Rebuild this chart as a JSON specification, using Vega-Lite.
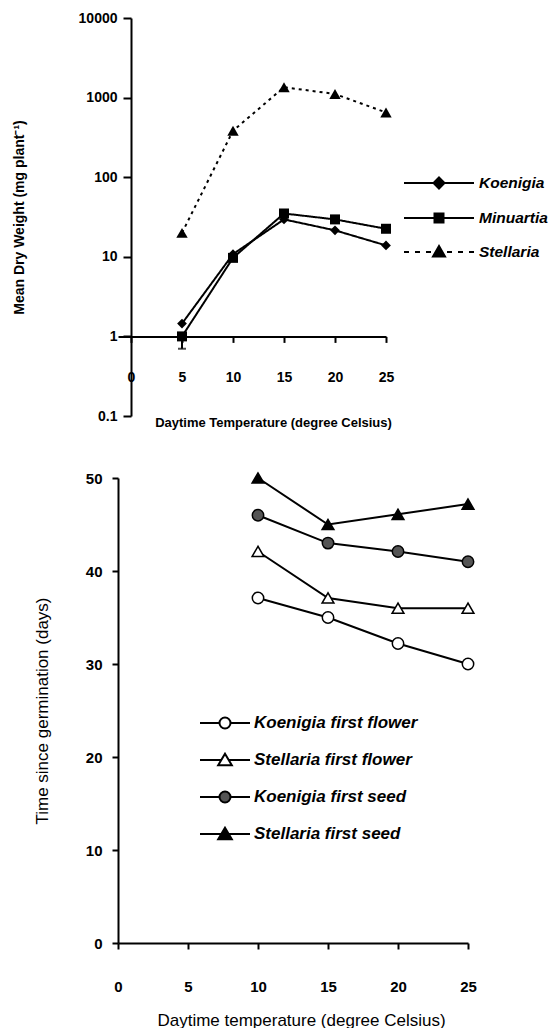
{
  "$schema": "https://vega.github.io/schema/vega-lite/v6.json",
  "padding": {"left": 12, "top": 11, "right": 0, "bottom": 0},
  "bounds": "flush",
  "spacing": 62,
  "background": "white",
  "config": {
    "font": "Liberation Sans",
    "view": {"stroke": null},
    "axis": {
      "grid": false, "domainColor": "black", "domainWidth": 2, "tickColor": "black", "tickWidth": 2,
      "labelColor": "black", "titleColor": "black", "labelFont": "Liberation Sans", "titleFont": "Liberation Sans",
      "labelFontWeight": "bold", "titleFontWeight": "bold", "labelFlush": false, "labelOverlap": false
    },
    "legend": {"labelFont": "Liberation Sans", "labelColor": "black", "labelLimit": 400}
  },
  "datasets": {
    "growth": [
      {"temp": 5, "species": "Koenigia", "weight": 1.45},
      {"temp": 10, "species": "Koenigia", "weight": 10.8},
      {"temp": 15, "species": "Koenigia", "weight": 29.5},
      {"temp": 20, "species": "Koenigia", "weight": 21.5},
      {"temp": 25, "species": "Koenigia", "weight": 13.9},
      {"temp": 5, "species": "Minuartia", "weight": 1.0},
      {"temp": 10, "species": "Minuartia", "weight": 9.7},
      {"temp": 15, "species": "Minuartia", "weight": 35},
      {"temp": 20, "species": "Minuartia", "weight": 29.5},
      {"temp": 25, "species": "Minuartia", "weight": 22.5},
      {"temp": 5, "species": "Stellaria", "weight": 20},
      {"temp": 10, "species": "Stellaria", "weight": 383},
      {"temp": 15, "species": "Stellaria", "weight": 1350},
      {"temp": 20, "species": "Stellaria", "weight": 1110},
      {"temp": 25, "species": "Stellaria", "weight": 650}
    ],
    "errors": [{"temp": 5, "species": "Minuartia", "lo": 0.7, "hi": 1.0}],
    "phenology": [
      {"temp": 10, "series": "Koenigia first flower", "days": 37.1},
      {"temp": 15, "series": "Koenigia first flower", "days": 35.0},
      {"temp": 20, "series": "Koenigia first flower", "days": 32.2},
      {"temp": 25, "series": "Koenigia first flower", "days": 30.0},
      {"temp": 10, "series": "Stellaria first flower", "days": 42.1},
      {"temp": 15, "series": "Stellaria first flower", "days": 37.1},
      {"temp": 20, "series": "Stellaria first flower", "days": 36.0},
      {"temp": 25, "series": "Stellaria first flower", "days": 36.0},
      {"temp": 10, "series": "Koenigia first seed", "days": 46.0},
      {"temp": 15, "series": "Koenigia first seed", "days": 43.0},
      {"temp": 20, "series": "Koenigia first seed", "days": 42.1},
      {"temp": 25, "series": "Koenigia first seed", "days": 41.0},
      {"temp": 10, "series": "Stellaria first seed", "days": 50.0},
      {"temp": 15, "series": "Stellaria first seed", "days": 45.0},
      {"temp": 20, "series": "Stellaria first seed", "days": 46.1},
      {"temp": 25, "series": "Stellaria first seed", "days": 47.2}
    ]
  },
  "vconcat": [
    {
      "width": 268,
      "height": 398,
      "data": {"name": "growth"},
      "resolve": {"scale": {"shape": "independent"}},
      "encoding": {
        "x": {
          "field": "temp", "type": "quantitative",
          "scale": {"domain": [-1.275, 25], "nice": false, "zero": false},
          "axis": {
            "values": [0, 5, 10, 15, 20, 25], "offset": -79.6, "tickSize": 6, "labelPadding": 28,
            "labelFontSize": 14, "title": "Daytime Temperature (degree Celsius)", "titleFontSize": 13,
            "titleX": 155, "titleY": 86, "titleBaseline": "middle"
          }
        },
        "y": {
          "field": "weight", "type": "quantitative",
          "scale": {"type": "log", "domain": [0.1, 10000], "nice": false},
          "axis": {
            "values": [0.1, 1, 10, 100, 1000, 10000], "format": "~g", "offset": -13, "tickSize": 8,
            "labelPadding": 6, "labelFontSize": 14, "title": "Mean Dry Weight (mg plant⁻¹)",
            "titleFontSize": 14, "titlePadding": 52
          }
        }
      },
      "layer": [
        {
          "mark": {"type": "line", "color": "black", "strokeWidth": 2},
          "encoding": {
            "strokeDash": {
              "field": "species", "type": "nominal",
              "scale": {"domain": ["Koenigia", "Minuartia", "Stellaria"], "range": [[1, 0], [1, 0], [3, 4]]},
              "legend": null
            }
          }
        },
        {
          "data": {"name": "errors"},
          "mark": {"type": "rule", "color": "black", "strokeWidth": 2},
          "encoding": {"y": {"field": "lo", "type": "quantitative"}, "y2": {"field": "hi"}}
        },
        {
          "data": {"name": "errors"},
          "mark": {"type": "tick", "orient": "horizontal", "color": "black", "size": 8, "thickness": 2},
          "encoding": {"y": {"field": "lo", "type": "quantitative"}}
        },
        {
          "transform": [{"filter": "datum.species === 'Koenigia'"}],
          "mark": {"type": "point", "shape": "diamond", "filled": true, "color": "black", "opacity": 1, "size": 95}
        },
        {
          "transform": [{"filter": "datum.species === 'Minuartia'"}],
          "mark": {"type": "point", "shape": "square", "filled": true, "color": "black", "opacity": 1, "size": 100}
        },
        {
          "transform": [{"filter": "datum.species === 'Stellaria'"}],
          "mark": {"type": "point", "shape": "triangle-up", "filled": true, "color": "black", "opacity": 1, "size": 130}
        },
        {
          "mark": {"type": "point", "filled": false, "fill": "black", "stroke": "black", "strokeWidth": 2, "opacity": 0, "size": 400},
          "encoding": {
            "shape": {
              "field": "species", "type": "nominal",
              "scale": {
                "domain": ["Koenigia", "Minuartia", "Stellaria"],
                "range": [
                  "M-3.5,0H3.5M0,-0.55L0.55,0L0,0.55L-0.55,0Z",
                  "M-3.5,0H3.5M-0.45,-0.45H0.45V0.45H-0.45Z",
                  "M-3.5,0H-3M-2.4,0H-1.9M-1.3,0H-0.8M0.8,0H1.3M1.9,0H2.4M3,0H3.5M0,-0.6L0.6,0.45H-0.6Z"
                ]
              },
              "legend": {
                "title": null, "orient": "none", "legendX": 310, "legendY": 154, "padding": 0,
                "symbolSize": 400, "symbolOpacity": 1, "symbolStrokeWidth": 2,
                "labelFontSize": 15.5, "labelFontStyle": "italic", "labelFontWeight": "bold",
                "labelOffset": 29, "rowPadding": 14
              }
            }
          }
        },
        {
          "data": {"values": [{}]},
          "mark": {"type": "text", "align": "left", "baseline": "middle", "fontWeight": "bold", "fontSize": 13, "color": "black"},
          "encoding": {
            "x": {"datum": 1.86, "type": "quantitative"},
            "y": {"datum": 7000, "type": "quantitative"},
            "text": {"value": "(1a)"}
          }
        }
      ]
    },
    {
      "width": 350,
      "height": 465,
      "data": {"name": "phenology"},
      "resolve": {"scale": {"shape": "independent", "fill": "independent"}},
      "encoding": {
        "x": {
          "field": "temp", "type": "quantitative",
          "scale": {"domain": [0, 25], "nice": false, "zero": false},
          "axis": {
            "values": [0, 5, 10, 15, 20, 25], "tickSize": 6, "labelPadding": 30, "labelFontSize": 15,
            "title": "Daytime temperature (degree Celsius)", "titleFontSize": 17, "titleFontWeight": "normal",
            "titleX": 183, "titleY": 77, "titleBaseline": "middle"
          }
        },
        "y": {
          "field": "days", "type": "quantitative",
          "scale": {"domain": [0, 50], "nice": false},
          "axis": {
            "values": [0, 10, 20, 30, 40, 50], "tickSize": 6, "labelPadding": 10, "labelFontSize": 15,
            "title": "Time since germination (days)", "titleFontSize": 17, "titleFontWeight": "normal",
            "titlePadding": 34
          }
        }
      },
      "layer": [
        {
          "mark": {"type": "line", "color": "black", "strokeWidth": 2},
          "encoding": {"detail": {"field": "series", "type": "nominal"}}
        },
        {
          "transform": [{"filter": "indexof(datum.series, 'Koenigia') >= 0"}],
          "mark": {"type": "point", "shape": "circle", "filled": true, "stroke": "black", "strokeWidth": 1.5, "size": 130, "opacity": 1},
          "encoding": {
            "fill": {
              "field": "series", "type": "nominal",
              "scale": {
                "domain": ["Koenigia first flower", "Stellaria first flower", "Koenigia first seed", "Stellaria first seed"],
                "range": ["white", "white", "#555555", "black"]
              },
              "legend": null
            }
          }
        },
        {
          "transform": [{"filter": "indexof(datum.series, 'Stellaria') >= 0"}],
          "mark": {"type": "point", "shape": "triangle-up", "filled": true, "stroke": "black", "strokeWidth": 1.5, "size": 140, "opacity": 1},
          "encoding": {
            "fill": {
              "field": "series", "type": "nominal",
              "scale": {
                "domain": ["Koenigia first flower", "Stellaria first flower", "Koenigia first seed", "Stellaria first seed"],
                "range": ["white", "white", "#555555", "black"]
              },
              "legend": null
            }
          }
        },
        {
          "mark": {"type": "point", "filled": false, "stroke": "black", "strokeWidth": 2, "opacity": 0, "size": 400},
          "encoding": {
            "shape": {
              "field": "series", "type": "nominal",
              "scale": {
                "domain": ["Koenigia first flower", "Stellaria first flower", "Koenigia first seed", "Stellaria first seed"],
                "range": [
                  "M-2.5,0H-0.55M0.55,0H2.5M-0.55,0A0.55,0.55,0,1,1,0.55,0A0.55,0.55,0,1,1,-0.55,0Z",
                  "M-2.5,0H-0.37M0.37,0H2.5M0,-0.62L0.68,0.52H-0.68Z",
                  "M-2.5,0H-0.56M0.56,0H2.5M-0.55,0A0.55,0.55,0,1,1,0.55,0A0.55,0.55,0,1,1,-0.55,0Z",
                  "M-2.5,0H-0.38M0.38,0H2.5M0,-0.62L0.68,0.52H-0.68Z"
                ]
              },
              "legend": {
                "title": null, "orient": "none", "legendX": 96, "legendY": 234, "padding": 0,
                "symbolSize": 400, "symbolOpacity": 1, "symbolStrokeWidth": 2,
                "labelFontSize": 17, "labelFontStyle": "italic", "labelFontWeight": "bold",
                "labelOffset": 18, "rowPadding": 16, "labelLimit": 400
              }
            },
            "fill": {
              "field": "series", "type": "nominal",
              "scale": {
                "domain": ["Koenigia first flower", "Stellaria first flower", "Koenigia first seed", "Stellaria first seed"],
                "range": ["white", "white", "#555555", "black"]
              },
              "legend": {
                "title": null, "orient": "none", "legendX": 96, "legendY": 234, "padding": 0,
                "symbolSize": 400, "symbolOpacity": 1, "symbolStrokeWidth": 2,
                "labelFontSize": 17, "labelFontStyle": "italic", "labelFontWeight": "bold",
                "labelOffset": 18, "rowPadding": 16, "labelLimit": 400
              }
            }
          }
        },
        {
          "data": {"values": [{}]},
          "mark": {"type": "text", "align": "left", "baseline": "middle", "fontWeight": "bold", "fontSize": 13, "color": "black"},
          "encoding": {
            "x": {"datum": 2.3, "type": "quantitative"},
            "y": {"datum": 48.3, "type": "quantitative"},
            "text": {"value": "(1b)"}
          }
        }
      ]
    }
  ]
}
